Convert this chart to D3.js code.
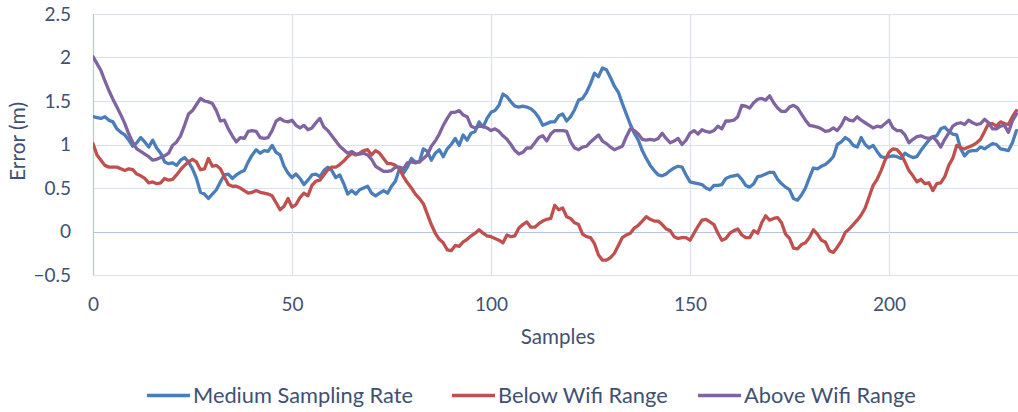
<!DOCTYPE html>
<html>
<head>
<meta charset="utf-8">
<script src="https://cdn.jsdelivr.net/npm/d3@7"></script>
<style>
  html, body { margin: 0; padding: 0; background: #ffffff; }
  svg { display: block; }
  text { font-family: Lato, "Open Sans", sans-serif; fill: #3f5173; }
</style>
</head>
<body>
<svg id="chart" width="1018" height="412"></svg>
<script>
// Positioning error per sample for three scenarios
const seriesNames = ["Medium Sampling Rate", "Below Wifi Range", "Above Wifi Range"];
const seriesColors = ["#4a7ebb", "#c0504d", "#8064a2"];

const mediumSampling = [
  1.32,1.31,1.30,1.32,1.28,1.26,1.18,1.14,1.11,1.05,0.98,1.02,1.08,1.03,0.97,1.05,0.96,0.90,0.80,0.78,
  0.79,0.76,0.82,0.85,0.80,0.72,0.61,0.45,0.43,0.38,0.43,0.48,0.57,0.65,0.66,0.61,0.65,0.68,0.70,0.80,
  0.88,0.94,0.90,0.93,0.92,0.99,0.91,0.88,0.75,0.67,0.62,0.66,0.61,0.54,0.59,0.65,0.66,0.63,0.70,0.74,
  0.70,0.62,0.65,0.55,0.43,0.47,0.43,0.48,0.50,0.52,0.44,0.41,0.44,0.47,0.44,0.52,0.58,0.72,0.67,0.74,
  0.84,0.80,0.80,0.95,0.92,0.82,0.90,0.94,0.86,0.95,1.00,1.07,0.99,1.11,1.05,1.13,1.15,1.26,1.20,1.30,
  1.37,1.39,1.45,1.58,1.55,1.49,1.44,1.43,1.44,1.43,1.41,1.37,1.31,1.22,1.24,1.26,1.26,1.33,1.35,1.27,
  1.32,1.40,1.51,1.53,1.60,1.70,1.82,1.78,1.88,1.86,1.77,1.67,1.60,1.47,1.35,1.23,1.13,1.05,0.93,0.84,
  0.76,0.70,0.65,0.64,0.66,0.70,0.73,0.75,0.74,0.65,0.57,0.56,0.55,0.54,0.50,0.48,0.53,0.53,0.54,0.61,
  0.63,0.64,0.65,0.60,0.53,0.51,0.55,0.63,0.64,0.66,0.68,0.68,0.60,0.55,0.51,0.48,0.38,0.36,0.42,0.50,
  0.62,0.73,0.72,0.75,0.77,0.81,0.86,1.00,1.03,1.08,1.05,0.99,0.97,1.08,1.00,0.96,0.99,0.92,0.86,0.85,
  0.86,0.87,0.86,0.84,0.90,0.87,0.85,0.86,0.93,0.99,1.05,1.09,1.10,1.18,1.20,1.15,1.12,1.11,0.95,0.87,
  0.92,0.93,0.93,0.97,0.95,0.98,1.01,1.00,0.95,0.94,0.93,1.02,1.16
];

const belowWifi = [
  1.01,0.88,0.82,0.76,0.74,0.74,0.74,0.72,0.70,0.72,0.71,0.66,0.64,0.61,0.56,0.57,0.55,0.56,0.61,0.59,
  0.60,0.65,0.71,0.76,0.80,0.83,0.80,0.71,0.72,0.84,0.75,0.76,0.72,0.63,0.54,0.52,0.52,0.50,0.47,0.44,
  0.45,0.47,0.45,0.44,0.43,0.41,0.33,0.25,0.29,0.38,0.28,0.31,0.39,0.44,0.41,0.53,0.58,0.59,0.65,0.71,
  0.74,0.74,0.77,0.81,0.86,0.90,0.88,0.90,0.93,0.94,0.88,0.93,0.90,0.84,0.78,0.78,0.76,0.72,0.63,0.56,
  0.50,0.43,0.38,0.32,0.20,0.08,-0.02,-0.09,-0.13,-0.21,-0.22,-0.16,-0.17,-0.12,-0.09,-0.05,-0.02,0.02,-0.02,-0.05,
  -0.06,-0.08,-0.10,-0.13,-0.04,-0.06,-0.05,0.04,0.08,0.11,0.05,0.05,0.09,0.12,0.14,0.15,0.30,0.25,0.27,0.17,
  0.15,0.10,0.08,-0.03,-0.06,-0.07,-0.14,-0.27,-0.33,-0.33,-0.30,-0.25,-0.16,-0.07,-0.04,-0.02,0.04,0.07,0.12,0.17,
  0.14,0.12,0.12,0.08,0.03,0.01,-0.06,-0.08,-0.07,-0.07,-0.10,-0.02,0.06,0.13,0.14,0.11,0.08,-0.02,-0.10,-0.08,
  -0.02,0.01,0.03,-0.04,-0.07,-0.07,0.01,-0.02,0.10,0.18,0.13,0.15,0.16,0.10,-0.03,-0.08,-0.19,-0.20,-0.15,-0.13,
  -0.07,0.02,-0.03,-0.10,-0.12,-0.22,-0.24,-0.18,-0.11,-0.01,0.03,0.08,0.13,0.19,0.27,0.40,0.53,0.60,0.70,0.82,
  0.91,0.95,0.94,0.89,0.80,0.70,0.64,0.57,0.60,0.55,0.56,0.47,0.55,0.56,0.63,0.76,0.84,0.99,0.96,0.95,
  0.97,0.99,1.02,1.06,1.15,1.24,1.24,1.21,1.26,1.24,1.23,1.32,1.39
];

const aboveWifi = [
  2.01,1.93,1.85,1.73,1.62,1.52,1.43,1.34,1.24,1.12,1.02,0.95,0.92,0.89,0.86,0.82,0.83,0.85,0.87,0.90,
  0.99,1.03,1.10,1.22,1.35,1.39,1.46,1.53,1.50,1.49,1.47,1.39,1.27,1.28,1.18,1.10,1.03,1.08,1.07,1.15,
  1.16,1.15,1.08,1.07,1.08,1.16,1.27,1.30,1.27,1.26,1.28,1.22,1.19,1.22,1.17,1.19,1.25,1.30,1.20,1.16,
  1.10,1.04,0.98,0.94,0.90,0.92,0.89,0.89,0.90,0.88,0.83,0.75,0.72,0.69,0.69,0.70,0.74,0.74,0.72,0.79,
  0.80,0.79,0.80,0.84,0.88,0.98,1.04,1.12,1.22,1.30,1.37,1.37,1.39,1.34,1.32,1.21,1.19,1.21,1.21,1.19,
  1.16,1.18,1.15,1.10,1.06,1.00,0.93,0.89,0.91,0.96,0.96,1.02,1.08,1.10,1.04,1.12,1.16,1.16,1.16,1.15,
  1.03,0.96,0.94,0.97,0.98,1.03,1.07,1.11,1.04,1.01,0.97,0.94,0.96,0.98,1.09,1.18,1.16,1.12,1.06,1.05,
  1.06,1.05,1.07,1.13,1.07,1.02,1.04,1.07,1.00,1.05,1.13,1.16,1.12,1.17,1.15,1.14,1.16,1.21,1.18,1.27,
  1.27,1.28,1.32,1.45,1.44,1.42,1.48,1.52,1.53,1.51,1.56,1.48,1.42,1.38,1.38,1.43,1.45,1.42,1.35,1.28,
  1.22,1.21,1.20,1.18,1.15,1.16,1.19,1.16,1.22,1.31,1.28,1.27,1.32,1.28,1.25,1.22,1.19,1.21,1.20,1.24,
  1.28,1.19,1.16,1.16,1.11,1.02,1.06,1.09,1.10,1.08,1.07,1.09,1.04,0.97,1.06,1.13,1.21,1.24,1.25,1.23,
  1.28,1.25,1.23,1.24,1.29,1.25,1.18,1.18,1.21,1.22,1.14,1.27,1.35
];

const yTicks = [-0.5, 0, 0.5, 1, 1.5, 2, 2.5];
const xTicks = [0, 50, 100, 150, 200];
const xLabel = "Samples";
const yLabel = "Error  (m)";

const allSeries = [mediumSampling, belowWifi, aboveWifi];

const svg = d3.select("#chart");
const margin = { left: 93, right: 0, top: 14, bottom: 137 };
const W = 1018, H = 412;
const FONT = "Lato, 'Open Sans', sans-serif";

const x = d3.scaleLinear().domain([0, 232.4]).range([margin.left, W - margin.right]);
const y = d3.scaleLinear().domain([-0.5, 2.5]).range([H - margin.bottom, margin.top]);

// Gridlines
const grid = svg.append("g");
grid.selectAll("line.h").data(yTicks).join("line")
  .attr("x1", margin.left).attr("x2", W)
  .attr("y1", d => Math.round(y(d)) + 0.5).attr("y2", d => Math.round(y(d)) + 0.5)
  .attr("stroke", d => d === 0 ? "#b4c6e4" : "#d9e2f1").attr("stroke-width", 1.2);
grid.selectAll("line.v").data(xTicks.slice(1)).join("line")
  .attr("y1", y(2.5)).attr("y2", y(-0.5))
  .attr("x1", d => Math.round(x(d)) + 0.5).attr("x2", d => Math.round(x(d)) + 0.5)
  .attr("stroke", "#d9e2f1").attr("stroke-width", 1.2);
// left axis line
svg.append("line")
  .attr("x1", margin.left + 0.5).attr("x2", margin.left + 0.5)
  .attr("y1", y(2.5)).attr("y2", y(-0.5))
  .attr("stroke", "#b4c6e4").attr("stroke-width", 1.2);

// Axes (tick labels only)
const yAxis = svg.append("g")
  .attr("transform", `translate(${margin.left - 19},0)`)
  .call(d3.axisLeft(y).tickValues(yTicks).tickSize(0).tickFormat(d3.format("")));
yAxis.select(".domain").remove();
yAxis.selectAll("text").attr("font-size", 19).attr("fill", "#3f5173").style("font-family", FONT);

const xAxis = svg.append("g")
  .attr("transform", `translate(0,${y(-0.5) + 19})`)
  .call(d3.axisBottom(x).tickValues(xTicks).tickSize(0).tickFormat(d3.format("d")));
xAxis.select(".domain").remove();
xAxis.selectAll("text").attr("font-size", 19).attr("fill", "#3f5173").style("font-family", FONT);

// Axis titles
svg.append("text")
  .attr("x", 558).attr("y", 343.5)
  .attr("text-anchor", "middle").attr("font-size", 20.6)
  .text(xLabel);
svg.append("text")
  .attr("transform", `translate(25,${(y(2.5) + y(-0.5)) / 2 - 3}) rotate(-90)`)
  .attr("text-anchor", "middle").attr("font-size", 21)
  .text(yLabel);

// Lines
const line = d3.line()
  .x((d, i) => x(i))
  .y(d => y(d));

svg.append("defs").append("clipPath").attr("id", "plot-clip")
  .append("rect").attr("x", margin.left).attr("y", 0).attr("width", W - margin.left).attr("height", H);

const lines = svg.append("g").attr("clip-path", "url(#plot-clip)");
lines.selectAll("path").data(allSeries).join("path")
  .attr("d", d => line(d))
  .attr("fill", "none")
  .attr("stroke", (d, i) => seriesColors[i])
  .attr("stroke-width", 3.3)
  .attr("stroke-linejoin", "round")
  .attr("stroke-linecap", "round");

// Legend
const legendX = [147, 452, 698];
const legend = svg.append("g");
seriesNames.forEach((name, i) => {
  const g = legend.append("g").attr("transform", `translate(${legendX[i]},395.5)`);
  g.append("line").attr("x1", 0).attr("x2", 43).attr("y1", 0).attr("y2", 0)
    .attr("stroke", seriesColors[i]).attr("stroke-width", 3.3);
  g.append("text").attr("x", 46).attr("y", 0).attr("dy", "0.36em")
    .attr("font-size", 21.8).text(name);
});
</script>
</body>
</html>
